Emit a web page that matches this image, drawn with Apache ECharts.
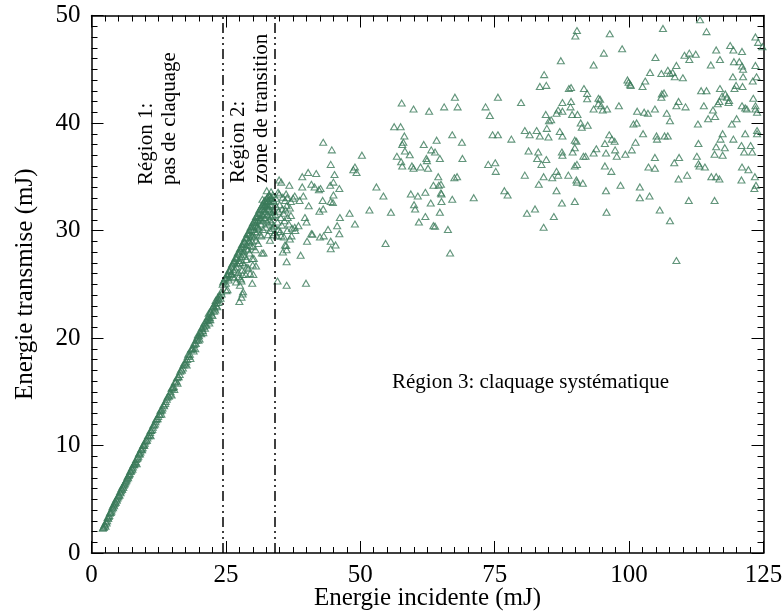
<!DOCTYPE html>
<html>
<head>
<meta charset="utf-8">
<script src="https://cdn.jsdelivr.net/npm/echarts@6/dist/echarts.min.js"></script>
<style>
  html, body { margin: 0; padding: 0; background: #fff; }
  #chart { width: 783px; height: 613px; }
</style>
</head>
<body>
<div id="chart"></div>
<script>
// Région 1 : pas de claquage (quasi linéaire)
const region1 = [
  [2.1,2.3],[2.3,2.4],[2.4,2.6],[2.6,2.5],[2.7,2.9],[2.9,3.0],[3.0,3.3],[3.2,3.4],[3.3,3.5],[3.5,3.8],
  [3.6,3.8],[3.8,4.1],[4.0,4.2],[4.1,4.5],[4.3,4.6],[4.5,4.7],[4.6,5.0],[4.8,5.1],[5.0,5.3],[5.1,5.4],
  [5.3,5.7],[5.5,5.8],[5.7,5.9],[5.8,6.2],[6.0,6.3],[6.2,6.5],[6.4,6.7],[6.5,6.8],[6.7,7.1],[6.9,7.2],
  [7.1,7.4],[7.3,7.6],[7.5,7.9],[7.7,8.0],[7.9,8.2],[8.1,8.4],[8.3,8.7],[8.5,8.8],[8.7,9.0],[8.9,9.3],
  [9.1,9.4],[9.3,9.7],[9.5,9.8],[9.7,10.1],[9.9,10.2],[10.2,10.5],[10.4,10.7],[10.6,10.9],[10.9,11.2],[11.1,11.4],
  [11.4,11.7],[11.6,11.9],[11.9,12.2],[12.1,12.5],[12.4,12.7],[12.7,12.9],[12.9,13.3],[13.2,13.5],[13.5,13.7],[13.8,14.1],
  [14.1,14.5],[14.4,14.6],[14.7,15.0],[15.0,15.4],[15.3,15.5],[15.6,15.9],[15.9,16.3],[16.2,16.4],[16.5,16.9],[16.8,17.0],
  [17.1,17.5],[17.4,17.6],[17.8,18.0],[18.0,18.5],[18.3,18.5],[18.6,19.0],[18.9,19.1],[19.2,19.6],[19.5,19.8],[19.7,20.1],
  [19.9,19.8],[20.2,20.5],[20.4,20.4],[20.6,21.0],[20.9,21.1],[21.1,20.9],[21.3,21.6],[21.6,21.8],[21.8,22.3],[22.0,21.9],
  [22.2,22.5],[22.4,22.7],[22.7,23.0],[22.9,22.8],[23.1,23.5],[23.3,23.3],[23.5,23.8],[23.7,23.6],[23.9,24.0],[23.4,22.9],
  [22.5,22.1],[21.4,21.2],[20.1,19.9],[19.0,18.8],[16.0,15.8],[14.9,14.7],[13.0,12.9],[11.0,10.9],[8.4,8.3],[24.2,24.1],
  [2.2,2.4],[2.5,2.7],[2.8,2.8],[3.1,3.2],[3.4,3.7],[3.7,3.9],[3.9,4.3],[4.2,4.4],[4.4,4.8],[4.7,4.9],
  [4.9,5.2],[5.2,5.4],[5.4,5.6],[5.6,6.0],[5.9,6.1],[6.1,6.4],[6.3,6.6],[6.6,6.9],[6.8,7.0],[7.0,7.3],
  [7.2,7.6],[7.4,7.7],[7.6,7.8],[7.8,8.2],[8.0,8.3],[8.2,8.5],[8.6,8.9],[8.8,9.2],[9.0,9.2],[9.2,9.6],
  [9.4,9.6],[9.6,10.0],[9.8,10.0],[10.0,10.4],[10.3,10.5],[10.5,10.9],[10.8,11.0],[11.0,11.4],[11.3,11.5],[11.5,11.9],
  [11.8,12.0],[12.0,12.4],[12.3,12.5],[12.6,12.9],[12.8,13.2],[13.1,13.3],[13.4,13.8],[13.7,13.9],[14.0,14.3],[14.3,14.6],
  [14.6,14.8],[14.9,15.3],[15.2,15.4],[15.5,15.9],[15.8,16.0],[16.1,16.4],[16.4,16.6],[16.7,17.1],[17.0,17.2],[17.3,17.7],
  [17.6,17.8],[17.9,18.3],[18.2,18.3],[18.5,18.9],[18.8,19.0],[19.1,19.4],[19.4,19.5],[19.6,19.9],[19.8,20.3],[20.0,20.2],
  [20.3,20.6],[20.5,20.9],[20.7,20.7],[21.0,21.4],[21.2,21.2],[21.5,21.6],[21.7,22.0],[21.9,21.7],[22.1,22.4],[22.3,22.2],
  [22.6,22.9],[22.8,22.5],[23.0,23.2],[23.2,23.0],[23.4,23.6],[23.6,23.3],[23.8,23.9],[24.0,23.7],[24.1,24.3],[22.1,21.7],
  [20.8,20.5],[19.3,19.0],[17.7,17.5],[18.4,18.1],[15.4,15.2],[21.9,21.4],[23.0,22.6]
];

// Région 2 : zone de transition
const region2 = [
  [24.4,25.0],[24.6,25.3],[24.8,25.5],[25.0,25.6],[25.2,25.9],[25.4,26.0],[25.6,26.3],[25.8,26.4],[26.0,26.6],[26.2,26.9],
  [26.4,27.0],[26.6,27.2],[26.8,27.5],[27.0,27.6],[27.2,27.9],[27.4,28.0],[27.6,28.3],[27.8,28.4],[28.0,28.7],[28.2,28.8],
  [28.4,29.0],[28.6,29.3],[28.8,29.4],[29.0,29.7],[29.2,29.8],[29.4,30.0],[29.6,30.3],[29.8,30.4],[30.0,30.7],[30.2,30.8],
  [30.4,31.0],[30.6,31.3],[30.8,31.4],[31.0,31.6],[31.2,31.9],[31.4,32.0],[31.6,32.2],[31.8,32.4],[32.0,32.6],[32.2,32.8],
  [32.4,32.7],[32.6,33.0],[32.8,33.1],[33.0,33.3],[33.2,33.2],[33.4,33.6],[33.6,33.0],[33.8,32.8],
  [25.0,25.1],[25.5,25.4],[26.0,26.0],[26.3,25.7],[26.7,26.4],[27.1,26.9],[27.5,27.2],[27.3,26.1],[27.9,27.6],[28.1,27.0],
  [28.3,28.1],[28.6,27.6],[28.9,28.7],[29.1,28.2],[29.3,29.1],[29.5,28.6],[29.7,29.6],[29.9,29.0],[30.1,30.1],[30.3,29.4],
  [30.5,30.5],[30.7,29.8],[30.9,30.9],[31.1,30.2],[31.3,31.2],[31.5,30.6],[31.7,31.5],[31.9,30.9],[32.1,31.9],[32.3,31.2],
  [32.5,32.2],[32.7,31.5],[32.9,32.0],[33.1,31.0],[33.3,31.8],[33.5,32.4],[33.7,31.4],[33.9,30.5],[33.2,30.0],[32.8,29.6],
  [32.4,30.3],[31.6,29.5],[31.0,28.8],[30.5,28.2],[29.9,27.4],[29.2,26.5],[28.7,25.9],[28.4,26.8],[27.8,25.5],[27.6,24.9],
  [28.2,24.3],[27.9,23.8],[27.5,23.4],[28.1,24.1],[25.3,24.5],[25.1,24.4],[26.9,25.2],[27.9,25.3],[28.1,25.9],[28.9,26.6],
  [29.5,26.0],[29.9,25.1],[30.0,26.8],[30.2,27.4],[30.1,25.9],[30.6,26.7],[31.7,27.9],[32.0,27.9],[33.2,29.1],[32.6,33.7],
  [31.8,32.9],[32.8,32.7],[32.3,32.4],[33.2,32.4],[33.9,32.7],
  [24.5,25.2],[24.9,25.6],[25.3,25.8],[25.7,26.2],[26.1,26.8],[26.5,27.1],[26.9,27.4],[27.3,27.8],[27.7,28.1],[28.1,28.5],
  [28.5,28.9],[28.9,29.3],[29.3,29.6],[29.7,30.1],[30.1,30.4],[30.5,30.8],[30.9,31.2],[31.3,31.6],[31.7,32.0],[32.1,32.3],
  [32.5,32.5],[32.9,32.8],[33.3,33.0],[33.7,33.3],[25.9,25.9],[26.5,26.2],[27.0,26.6],[27.6,27.0],[28.2,27.8],[28.8,28.3],
  [29.4,28.9],[29.9,29.5],[30.4,29.9],[30.9,30.4],[31.4,31.0],[31.9,31.4],[32.4,31.8],[32.9,32.3],[33.4,32.8],[33.9,31.9],
  [33.6,31.7],[33.0,30.6],[32.6,30.8],[31.9,30.1],[31.3,29.6],[30.6,29.1],[30.0,28.5],[29.4,27.9],[28.8,27.3],[28.0,26.3],
  [27.4,25.7],[26.6,25.6],[33.4,31.3],[33.7,30.2],[33.0,32.0],[32.2,31.6],[31.5,31.1],[30.8,30.3],
  [34.2,31.5],[34.4,32.2],[34.6,30.8],[34.8,31.8],[35.0,32.4],[35.2,31.2],[35.4,30.5],[35.5,32.0],[35.7,31.6],[35.9,30.9],
  [36.1,31.9],[36.3,32.3],[36.5,31.2],[36.7,30.6],[36.9,32.1],[37.1,31.4],[37.3,30.2],[34.1,29.8],[34.5,29.5],[35.1,29.9],
  [35.8,29.4],[36.4,30.0],[34.3,33.0],[34.9,33.4],[35.6,33.1],[36.0,32.8],[34.0,30.4],[34.7,30.1],[33.5,30.8],[33.8,29.6]
];

// Région 3 : claquage systématique
const region3 = [
  [57.7,41.85],[59.9,41.3],[62.8,41.1],[56.3,39.65],[57.5,39.65],[58.2,38.8],[58.0,38.2],[57.8,38.0],[43.1,38.2],[44.7,37.5],
  [50.3,37.0],[61.8,38.0],[63.2,37.5],[56.8,36.9],[58.3,37.4],[59.2,37.05],[62.3,36.7],
  [90.3,48.6],[90.0,48.1],[87.3,45.8],[93.4,45.4],[84.2,44.5],[83.4,43.4],[84.6,43.5],[88.8,43.2],[89.2,43.3],[91.6,43.2],
  [92.2,42.75],[92.2,42.25],[94.3,42.3],[67.6,42.4],[75.6,42.4],[65.6,41.5],[68.1,41.5],[73.3,41.5],[79.9,41.9],[74.1,40.7],
  [87.6,41.9],[89.2,42.0],[89.1,41.5],[86.8,41.2],[87.6,41.1],[86.5,40.9],[84.5,40.8],[89.4,40.8],[90.4,40.8],[85.1,40.2],
  [85.5,40.3],[84.7,39.5],[91.0,40.0],[91.2,39.6],[92.3,39.8],[93.4,41.3],[94.3,41.8],[64.2,38.4],[67.1,38.9],[68.9,38.2],
  [74.6,38.9],[75.6,38.9],[78.1,38.5],[80.6,39.3],[81.5,38.9],[82.8,39.3],[83.4,38.8],[85.0,38.7],[87.1,39.2],[87.6,38.8],
  [89.9,38.4],[90.2,38.3],[63.9,37.3],[81.3,37.4],[83.1,37.3],[87.5,37.3],[87.6,37.0],[89.5,37.3],[89.9,37.7],[91.5,36.9],
  [91.9,36.9],[93.4,37.2],[93.9,37.6],[64.8,36.7],[69.0,36.7],[82.9,36.7],[84.6,36.6],
  [113.2,49.6],[106.3,48.8],[114.4,48.5],[96.4,48.3],[123.5,48.0],[124.0,47.5],[124.8,47.1],[98.7,46.9],[95.3,46.5],[104.9,46.1],
  [110.3,46.3],[111.2,46.5],[112.4,46.4],[111.2,45.9],[116.2,46.8],[116.9,45.9],[118.8,47.2],[119.4,46.8],[121.0,46.65],[115.2,45.4],
  [119.5,45.7],[120.5,45.7],[121.0,45.3],[121.2,45.0],[123.5,45.35],[108.8,45.35],[103.9,44.7],[106.0,44.6],[107.2,44.9],[107.6,44.6],
  [108.1,44.7],[108.5,44.3],[110.0,44.2],[99.7,44.0],[100.2,43.6],[100.3,43.5],[99.9,43.8],[103.0,43.9],[102.5,43.4],[119.3,44.3],
  [121.2,44.3],[123.7,44.3],[123.0,43.9],[119.9,43.5],[121.1,43.4],[119.6,43.2],[113.4,43.0],[114.4,43.0],[116.9,43.2],[117.9,42.7],
  [117.3,42.5],[118.6,42.1],[118.2,42.4],[106.1,42.7],[106.5,42.8],[106.0,42.4],[109.2,42.0],[108.8,41.6],[110.5,41.5],[113.9,41.6],
  [116.8,42.0],[116.5,41.8],[118.5,41.9],[123.1,42.3],[121.0,41.6],[121.6,41.4],[123.5,41.6],[123.8,41.0],[123.5,41.3],[94.6,42.2],
  [94.8,41.6],[95.1,41.2],[95.9,41.3],[98.1,41.6],[101.5,41.1],[102.8,41.0],[103.5,40.9],[104.8,41.3],[107.0,40.9],[107.6,40.2],
  [112.8,39.9],[114.7,40.4],[116.0,40.6],[115.6,41.2],[119.1,39.9],[120.0,40.4],[121.9,41.3],[100.8,39.9],[101.4,40.0],[102.6,39.0],
  [96.3,38.9],[96.8,38.5],[97.3,38.3],[95.5,38.1],[105.1,38.8],[105.2,38.5],[106.6,38.8],[107.2,38.8],[101.2,38.2],[112.9,38.1],
  [117.4,39.0],[117.0,38.5],[119.4,38.5],[121.6,39.0],[123.8,39.3],[123.8,39.0],[116.2,37.8],[117.8,37.7],[120.9,37.9],[122.6,37.9],
  [95.7,37.2],[97.4,37.5],[100.5,37.5],[97.7,36.9],[99.3,37.1],[104.8,36.8],[109.3,36.8],[112.6,36.9],[115.9,37.1],[117.4,37.0],
  [121.4,37.3],[122.9,37.3],
  [44.5,36.15],[49.0,35.9],[48.7,35.65],[49.3,35.4],[57.6,36.4],[57.8,36.0],[59.6,36.0],[59.9,35.8],[61.2,35.9],[62.4,36.5],
  [62.6,35.8],[40.3,35.4],[41.8,35.3],[39.2,35.0],[45.2,35.2],[34.9,34.7],[35.3,34.5],[36.8,34.2],[39.2,34.05],[40.9,34.3],
  [41.5,34.05],[42.3,33.8],[42.6,33.9],[44.4,34.2],[45.0,34.5],[46.1,33.9],[53.0,34.05],[54.3,33.2],[63.6,34.2],[34.7,33.55],
  [36.2,33.4],[36.4,33.05],[37.8,33.2],[39.4,33.2],[38.7,32.8],[37.1,32.7],[37.5,33.0],[45.0,33.3],[44.5,32.7],[44.9,32.6],
  [43.0,32.8],[40.4,32.3],[43.1,32.0],[42.4,31.8],[48.0,31.6],[51.7,31.9],[55.7,31.7],[59.4,33.4],[60.7,33.2],[62.1,33.55],
  [63.1,32.55],[60.0,32.4],[60.2,32.0],[60.9,30.8],[62.1,31.3],[63.6,30.45],[46.2,31.2],[45.7,30.45],[44.0,30.1],[46.1,29.7],
  [49.0,30.6],[39.7,31.2],[40.0,30.8],[38.5,30.45],[37.9,30.0],[37.8,30.3],[37.2,29.5],[35.3,29.5],[40.9,29.7],[41.1,29.65],
  [40.1,29.0],[42.5,29.4],[43.2,29.5],[44.5,29.0],[45.4,28.65],[44.5,28.3],[36.2,28.6],[36.3,28.2],[54.7,28.8],[38.9,27.7],
  [36.3,27.1],[34.6,25.3],[36.3,24.9],[39.9,25.1],[36.0,28.65],[36.9,29.2],[35.6,28.0],
  [73.8,36.15],[75.1,36.3],[75.2,35.5],[64.5,35.0],[67.5,34.9],[68.0,35.0],[64.6,34.2],[65.0,34.3],[65.0,33.5],[65.1,33.4],
  [67.1,32.9],[71.1,33.05],[65.1,32.7],[64.8,31.7],[63.9,30.4],[66.3,30.1],[66.7,27.9],[76.8,33.7],[77.4,33.3],[83.7,36.15],
  [80.6,35.15],[83.2,34.3],[84.1,35.0],[85.7,34.9],[86.5,35.5],[86.8,35.15],[88.7,35.15],[89.9,36.0],[90.3,36.15],[90.2,34.7],
  [90.3,34.5],[91.4,34.4],[86.5,33.7],[81.0,31.6],[82.5,32.0],[87.5,32.55],[89.9,32.7],[86.0,31.3],[84.1,30.3],
  [95.5,36.0],[96.7,35.5],[103.6,35.9],[104.8,35.8],[108.4,36.3],[113.1,36.0],[114.1,35.9],[112.9,36.2],[109.2,34.8],[110.8,35.15],
  [115.3,35.0],[116.2,35.0],[116.8,34.8],[121.0,35.9],[122.2,35.65],[123.4,35.0],[123.6,34.2],[123.3,33.9],[120.9,34.7],[95.7,33.7],
  [98.4,34.2],[102.0,34.05],[102.0,33.05],[103.8,33.2],[95.8,31.7],[105.7,31.9],[107.6,30.9],[111.1,32.8],[115.9,32.8],[108.8,27.2]
];

// limites des régions (mJ) et axes
const boundaries = [24.5, 34];
const xMin = 0, xMax = 125, xStep = 25;
const yMin = 0, yMax = 50, yStep = 10;

const serif = '"Liberation Serif", "Times New Roman", serif';
const green = '#3b7a5a';

function axis(min, max, interval, labels, margin) {
  return {
    type: 'value',
    min: min,
    max: max,
    interval: interval,
    splitLine: { show: false },
    axisLine: { show: true, onZero: false, lineStyle: { color: '#000', width: 1.5 } },
    axisTick: { show: true, inside: true, length: 12, lineStyle: { color: '#000', width: 1 } },
    minorTick: { show: true, splitNumber: 10, length: 6, lineStyle: { color: '#000', width: 1 } },
    axisLabel: {
      show: labels,
      color: '#000',
      fontFamily: serif,
      fontSize: 25,
      margin: margin,
      showMinLabel: true,
      showMaxLabel: true
    }
  };
}

const chart = echarts.init(document.getElementById('chart'), null, { renderer: 'canvas' });

const allPoints = region1.concat(region2, region3);

const option = {
  backgroundColor: '#fff',
  animation: false,
  grid: { left: 91.5, right: 19.5, top: 15.5, bottom: 60, containLabel: false, outerBoundsMode: 'none' },
  xAxis: [
    Object.assign(axis(xMin, xMax, xStep, true, 10), {
      position: 'bottom',
      name: 'Energie incidente (mJ)',
      nameLocation: 'middle',
      nameGap: 33,
      nameMoveOverlap: false,
      nameTextStyle: { color: '#000', fontFamily: serif, fontSize: 25 }
    }),
    Object.assign(axis(xMin, xMax, xStep, false, 8), { position: 'top' })
  ],
  yAxis: [
    Object.assign(axis(yMin, yMax, yStep, true, 11), {
      position: 'left',
      name: 'Energie transmise (mJ)',
      nameLocation: 'middle',
      nameGap: 54,
      nameRotate: 90,
      nameMoveOverlap: false,
      nameTextStyle: { color: '#000', fontFamily: serif, fontSize: 25 }
    }),
    Object.assign(axis(yMin, yMax, yStep, false, 8), { position: 'right' })
  ],
  series: [
    {
      type: 'scatter',
      xAxisIndex: 0,
      yAxisIndex: 0,
      data: allPoints,
      symbol: 'triangle',
      symbolSize: [7, 6],
      itemStyle: { color: 'rgba(0,0,0,0)', borderColor: green, borderWidth: 1.1 },
      markLine: {
        silent: true,
        symbol: 'none',
        label: { show: false },
        lineStyle: { color: '#000', width: 1.5, type: [10, 4, 2, 4, 2, 4] },
        data: boundaries.map(function (b) { return { xAxis: b }; })
      }
    }
  ],
  graphic: [
    {
      type: 'text', x: 135, y: 185, rotation: Math.PI / 2,
      style: { text: 'Région 1:\npas de claquage', font: '21px ' + serif, fill: '#000',
               align: 'left', verticalAlign: 'top', lineHeight: 23 }
    },
    {
      type: 'text', x: 227, y: 183, rotation: Math.PI / 2,
      style: { text: 'Région 2:\nzone de transition', font: '21px ' + serif, fill: '#000',
               align: 'left', verticalAlign: 'top', lineHeight: 23 }
    },
    {
      type: 'text', x: 392, y: 382,
      style: { text: 'Région 3: claquage systématique', font: '21px ' + serif, fill: '#000',
               align: 'left', verticalAlign: 'middle' }
    }
  ]
};

chart.setOption(option);
</script>
</body>
</html>
